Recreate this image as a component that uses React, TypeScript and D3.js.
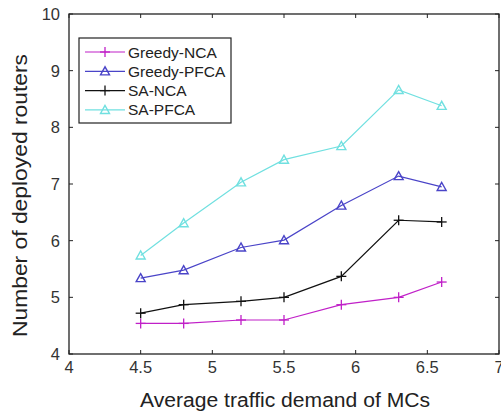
import React from "react";
import * as d3 from "d3";

const xValues = [4.5, 4.8, 5.2, 5.5, 5.9, 6.3, 6.6];
const greedyNCA = [4.54, 4.54, 4.6, 4.6, 4.87, 5.0, 5.27];
const greedyPFCA = [5.34, 5.48, 5.88, 6.01, 6.62, 7.14, 6.95];
const saNCA = [4.72, 4.87, 4.93, 5.0, 5.37, 6.36, 6.33];
const saPFCA = [5.74, 6.31, 7.03, 7.43, 7.67, 8.66, 8.38];

const seriesNames = ["Greedy-NCA", "Greedy-PFCA", "SA-NCA", "SA-PFCA"];
const seriesValues = [greedyNCA, greedyPFCA, saNCA, saPFCA];
const seriesColors = ["#c020c8", "#4a44c8", "#111111", "#70e0e0"];
const seriesMarkers = ["plus", "triangle", "plus", "triangle"];

const xTicks = [4, 4.5, 5, 5.5, 6, 6.5, 7];
const yTicks = [4, 5, 6, 7, 8, 9, 10];
const xTitle = "Average traffic demand of MCs";
const yTitle = "Number of deployed routers";

const W = 501;
const H = 417;
const M = { left: 69, right: 499, top: 14, bottom: 354 };
const FONT = "'Liberation Sans', Arial, sans-serif";

function Marker({ type, x, y, color }: { type: string; x: number; y: number; color: string }) {
  if (type === "plus") {
    const s = 5;
    return (
      <g stroke={color} strokeWidth={1.3}>
        <line x1={x - s} x2={x + s} y1={y} y2={y} />
        <line x1={x} x2={x} y1={y - s} y2={y + s} />
      </g>
    );
  }
  const s = 4.5;
  const pts = `${x},${y - s} ${x - s},${y + s * 0.8} ${x + s},${y + s * 0.8}`;
  return <polygon points={pts} fill="none" stroke={color} strokeWidth={1.4} />;
}

export default function App() {
  const x = d3.scaleLinear().domain([4, 7]).range([M.left, M.right]);
  const y = d3.scaleLinear().domain([4, 10]).range([M.bottom, M.top]);
  const line = d3
    .line<[number, number]>()
    .x((d) => x(d[0]))
    .y((d) => y(d[1]));
  const tick = 4;

  const legX = 79;
  const legY = 38;
  const legW = 152;
  const legH = 85;

  return (
    <svg
      width={W}
      height={H}
      style={{ position: "absolute", left: 0, top: 0, background: "#fff" }}
      fontFamily={FONT}
    >
      <rect x={0} y={0} width={W} height={H} fill="#fff" />
      {/* series */}
      {seriesValues.map((vals, i) => {
        const pts = xValues.map((xv, j) => [xv, vals[j]] as [number, number]);
        return (
          <g key={seriesNames[i]}>
            <path d={line(pts) || ""} fill="none" stroke={seriesColors[i]} strokeWidth={1.2} />
            {pts.map((p, j) => (
              <Marker key={j} type={seriesMarkers[i]} x={x(p[0])} y={y(p[1])} color={seriesColors[i]} />
            ))}
          </g>
        );
      })}
      {/* box */}
      <rect
        x={M.left}
        y={M.top}
        width={M.right - M.left}
        height={M.bottom - M.top}
        fill="none"
        stroke="#222"
        strokeWidth={1.3}
      />
      {/* x ticks */}
      {xTicks.map((t) => (
        <g key={"x" + t}>
          <line x1={x(t)} x2={x(t)} y1={M.bottom} y2={M.bottom - tick} stroke="#222" />
          <line x1={x(t)} x2={x(t)} y1={M.top} y2={M.top + tick} stroke="#222" />
          <text x={x(t)} y={373} textAnchor="middle" fontSize={16.5} fill="#333">
            {String(t)}
          </text>
        </g>
      ))}
      {/* y ticks */}
      {yTicks.map((t) => (
        <g key={"y" + t}>
          <line x1={M.left} x2={M.left + tick} y1={y(t)} y2={y(t)} stroke="#222" />
          <line x1={M.right} x2={M.right - tick} y1={y(t)} y2={y(t)} stroke="#222" />
          <text x={60} y={y(t) + 6} textAnchor="end" fontSize={16.5} fill="#333">
            {String(t)}
          </text>
        </g>
      ))}
      {/* titles */}
      <text
        x={140}
        y={407}
        fontSize={19.5}
        fill="#222"
        textLength={290}
        lengthAdjust="spacingAndGlyphs"
      >
        {xTitle}
      </text>
      <text
        transform={`translate(27,337) rotate(-90)`}
        fontSize={19.5}
        fill="#222"
        textLength={283}
        lengthAdjust="spacingAndGlyphs"
      >
        {yTitle}
      </text>
      {/* legend */}
      <rect x={legX} y={legY} width={legW} height={legH} fill="#fff" stroke="#222" strokeWidth={1.2} />
      {seriesNames.map((name, i) => {
        const ly = 52 + i * 19.3;
        return (
          <g key={"leg" + name}>
            <line x1={85} x2={125} y1={ly} y2={ly} stroke={seriesColors[i]} strokeWidth={1.2} />
            <Marker type={seriesMarkers[i]} x={105} y={ly} color={seriesColors[i]} />
            <text x={128} y={ly + 5.5} fontSize={15.5} fill="#222">
              {name}
            </text>
          </g>
        );
      })}
    </svg>
  );
}
